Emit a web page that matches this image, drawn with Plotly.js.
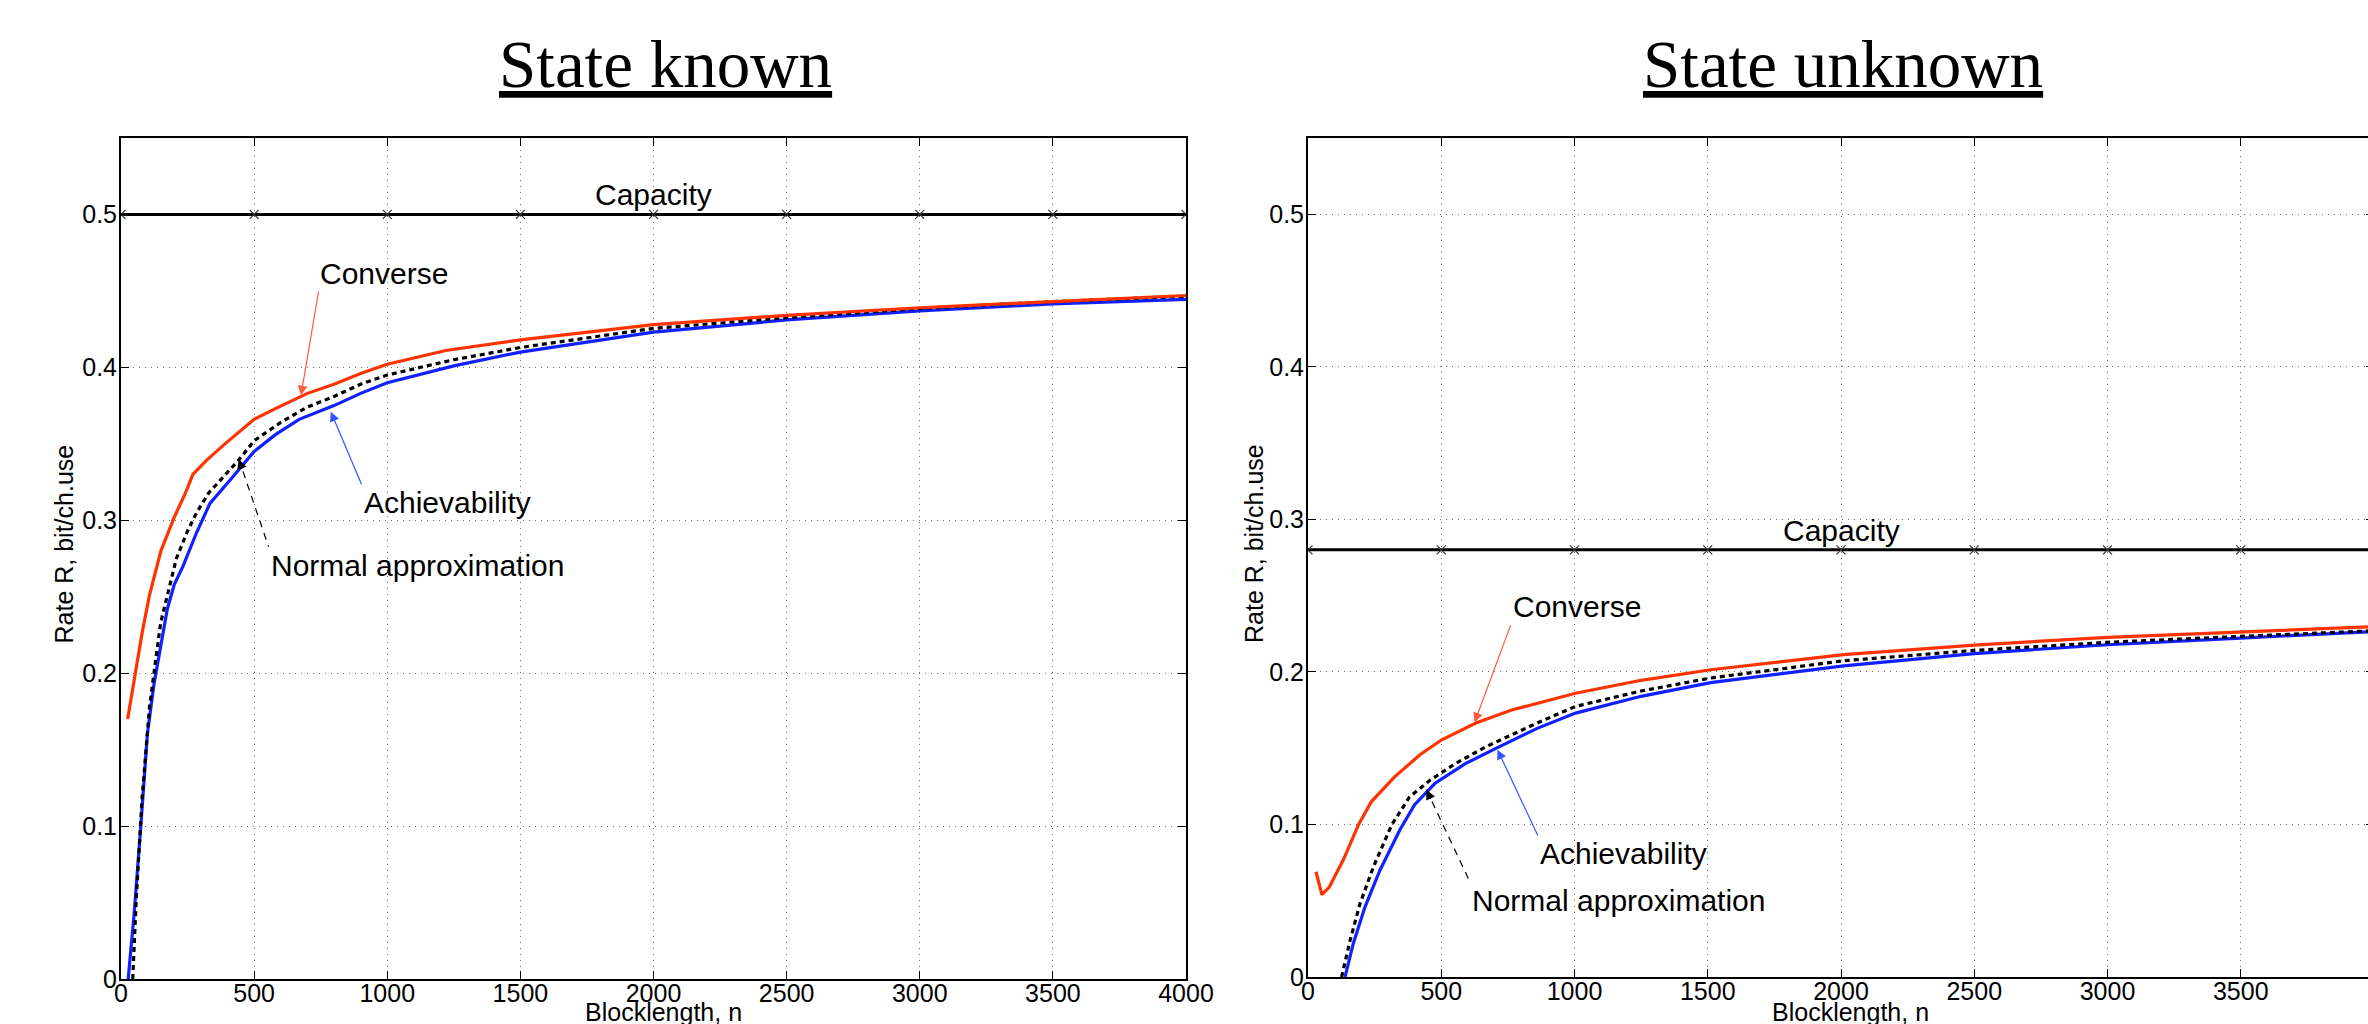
<!DOCTYPE html>
<html>
<head>
<meta charset="utf-8">
<script src="https://cdn.plot.ly/plotly-3.0.1.min.js"></script>
<style>
html,body{margin:0;padding:0;overflow:hidden;background:#fff;}
#chart{width:2380px;height:1024px;}
</style>
</head>
<body>
<div id="chart"></div>
<script>
// ---------------- data ----------------
const panelTitles = ['State known', 'State unknown'];
const xAxisTitle = 'Blocklength, n';
const yAxisTitle = 'Rate R, bit/ch.use';
const xTickVals = [0, 500, 1000, 1500, 2000, 2500, 3000, 3500, 4000];
const yTickVals = [0, 0.1, 0.2, 0.3, 0.4, 0.5];

// Capacity lines
const capacityN = [0, 500, 1000, 1500, 2000, 2500, 3000, 3500, 4000];
const capacityKnown = [0.5, 0.5, 0.5, 0.5, 0.5, 0.5, 0.5, 0.5, 0.5];
const capacityUnknown = [0.28, 0.28, 0.28, 0.28, 0.28, 0.28, 0.28, 0.28, 0.28];

// State known
const knownConverseN = [25, 50, 80, 107, 150, 200, 240, 270, 320, 384, 440, 500, 580, 640, 700, 800, 900, 1000, 1220, 1500, 2000, 2500, 3000, 3500, 4000];
const knownConverseR = [0.170, 0.196, 0.227, 0.251, 0.280, 0.302, 0.317, 0.330, 0.339, 0.349, 0.357, 0.366, 0.373, 0.378, 0.383, 0.389, 0.396, 0.402, 0.411, 0.418, 0.428, 0.434, 0.439, 0.443, 0.447];
const knownNormalN = [44, 57, 79, 107, 149, 208, 250, 284, 330, 384, 440, 500, 600, 700, 800, 900, 1000, 1250, 1500, 2000, 2500, 3000, 3500, 4000];
const knownNormalR = [0.000, 0.051, 0.118, 0.178, 0.233, 0.275, 0.293, 0.305, 0.318, 0.328, 0.339, 0.352, 0.364, 0.374, 0.381, 0.389, 0.395, 0.405, 0.413, 0.4255, 0.4325, 0.4385, 0.443, 0.4465];
const knownAchievN = [27, 49, 74, 99, 124, 150, 174, 200, 233, 284, 334, 418, 500, 580, 669, 800, 900, 1000, 1250, 1500, 2000, 2500, 3000, 3500, 4000];
const knownAchievR = [0.000, 0.042, 0.099, 0.160, 0.193, 0.219, 0.242, 0.258, 0.270, 0.292, 0.311, 0.328, 0.345, 0.356, 0.366, 0.375, 0.383, 0.390, 0.401, 0.410, 0.423, 0.431, 0.437, 0.4415, 0.4445];

// State unknown
const unknownConverseN = [30, 52, 80, 133, 190, 238, 324, 420, 502, 630, 764, 1004, 1250, 1511, 2010, 2500, 3000, 3500, 4000];
const unknownConverseR = [0.069, 0.054, 0.059, 0.077, 0.100, 0.115, 0.131, 0.1457, 0.1555, 0.1665, 0.175, 0.186, 0.1945, 0.2014, 0.2113, 0.2176, 0.2227, 0.2264, 0.2297];
const unknownNormalN = [126, 158, 195, 245, 314, 381, 458, 554, 668, 860, 1004, 1250, 1511, 2010, 2500, 3000, 3500, 4000];
const unknownNormalR = [0.000, 0.024, 0.048, 0.072, 0.0997, 0.118, 0.129, 0.140, 0.151, 0.1665, 0.1774, 0.1875, 0.196, 0.2073, 0.2141, 0.2194, 0.2233, 0.227];
const unknownAchievN = [139, 170, 214, 270, 345, 400, 477, 592, 707, 860, 1004, 1250, 1511, 2010, 2500, 3000, 3500, 4000];
const unknownAchievR = [0.000, 0.022, 0.046, 0.070, 0.0965, 0.113, 0.127, 0.140, 0.150, 0.163, 0.173, 0.184, 0.193, 0.204, 0.212, 0.2178, 0.2222, 0.2264];

// ---------------- styling ----------------
const W = 2380, H = 1024;
const fx = p => p / W;            // pixel -> paper x
const fy = p => 1 - p / H;        // pixel -> paper y
const SANS = 'Liberation Sans, Arial, Helvetica, sans-serif';
const SERIF = 'Liberation Serif, Times New Roman, serif';
const RED = '#ff3300', BLUE = '#1020ff', BLACK = '#000000';
const GRID = {showgrid: true, gridcolor: '#6f6f6f', griddash: '1px,5px', gridwidth: 1};

function xAxis(domain, anchor) {
  return Object.assign({
    domain: domain, anchor: anchor, range: [0, 4000],
    tickmode: 'array', tickvals: xTickVals,
    ticks: 'inside', ticklen: 8, tickwidth: 1, tickcolor: '#000',
    showline: true, linecolor: '#000', linewidth: 2, mirror: 'ticks',
    zeroline: false, fixedrange: true, ticklabelstandoff: -9,
    tickfont: {family: SANS, size: 25, color: '#000'}
  }, GRID);
}
function yAxis(domain, anchor) {
  return Object.assign({
    domain: domain, anchor: anchor, range: [0, 0.55],
    tickmode: 'array', tickvals: yTickVals,
    ticks: 'inside', ticklen: 8, tickwidth: 1, tickcolor: '#000',
    showline: true, linecolor: '#000', linewidth: 2, mirror: 'ticks',
    zeroline: false, fixedrange: true, ticklabelstandoff: -3,
    tickfont: {family: SANS, size: 25, color: '#000'}
  }, GRID);
}

function capTrace(y, xa, ya) {
  return {x: capacityN, y: y, xaxis: xa, yaxis: ya, mode: 'lines+markers', name: 'Capacity',
    line: {color: BLACK, width: 3},
    marker: {symbol: 'x-thin', size: 9, color: '#333', line: {color: '#333', width: 1.2}}};
}
function curve(x, y, xa, ya, color, dash, name) {
  return {x: x, y: y, xaxis: xa, yaxis: ya, mode: 'lines', name: name,
    line: {color: color, width: 3.2, dash: dash}};
}

const data = [
  capTrace(capacityKnown, 'x', 'y'),
  curve(knownAchievN, knownAchievR, 'x', 'y', BLUE, 'solid', 'Achievability'),
  curve(knownNormalN, knownNormalR, 'x', 'y', BLACK, '5px,4px', 'Normal approximation'),
  curve(knownConverseN, knownConverseR, 'x', 'y', RED, 'solid', 'Converse'),
  capTrace(capacityUnknown, 'x2', 'y2'),
  curve(unknownAchievN, unknownAchievR, 'x2', 'y2', BLUE, 'solid', 'Achievability'),
  curve(unknownNormalN, unknownNormalR, 'x2', 'y2', BLACK, '5px,4px', 'Normal approximation'),
  curve(unknownConverseN, unknownConverseR, 'x2', 'y2', RED, 'solid', 'Converse')
];

const labelFont = {family: SANS, size: 30, color: '#000'};
function pointer(text, xa, ya, x, y, ax, ay, xanchor, yanchor, color) {
  return {text: text, xref: xa, yref: ya, x: x, y: y, ax: ax, ay: ay,
    xanchor: xanchor, yanchor: yanchor, showarrow: true,
    arrowhead: 2, arrowsize: 1.6, arrowwidth: 1.2, arrowcolor: color,
    font: labelFont};
}
// dashed pointer: text + dashed shape + short arrow head
function dashedText(text, xa, ya, x, y, ax, ay) {
  return {text: text, xref: xa, yref: ya, x: x, y: y, ax: ax, ay: ay,
    xanchor: 'left', yanchor: 'top', showarrow: true, arrowcolor: 'rgba(0,0,0,0)',
    arrowwidth: 1, arrowhead: 0, font: labelFont};
}
function dashedHead(xa, ya, x, y, ax, ay) {
  const L = Math.hypot(ax, ay), k = 13 / L;
  return {text: ' ', xref: xa, yref: ya, x: x, y: y, ax: ax * k, ay: ay * k,
    showarrow: true, arrowhead: 2, arrowsize: 1.6, arrowwidth: 1.2, arrowcolor: '#000',
    font: {size: 2}};
}
function dashedLine(xa, ya, x, y, ax, ay) {
  return {type: 'line', xref: xa, yref: ya, xsizemode: 'pixel', ysizemode: 'pixel',
    xanchor: x, yanchor: y, x0: 0, y0: 0, x1: ax, y1: -ay,
    line: {color: '#000', width: 1.2, dash: '7px,6px'}};
}

const titleFont = {family: SERIF, size: 67, color: '#000', lineposition: 'under'};
const axisTitleFont = {family: SANS, size: 25, color: '#000'};

const annotations = [
  {text: panelTitles[0], xref: 'paper', yref: 'paper', x: fx(665), y: fy(64), showarrow: false,
   xanchor: 'center', yanchor: 'middle', font: titleFont},
  {text: panelTitles[1], xref: 'paper', yref: 'paper', x: fx(1843), y: fy(64), showarrow: false,
   xanchor: 'center', yanchor: 'middle', font: titleFont},
  {text: yAxisTitle, xref: 'paper', yref: 'paper', x: fx(63.5), y: fy(544), textangle: -90,
   showarrow: false, xanchor: 'center', yanchor: 'middle', font: axisTitleFont},
  {text: yAxisTitle, xref: 'paper', yref: 'paper', x: fx(1254), y: fy(544), textangle: -90,
   showarrow: false, xanchor: 'center', yanchor: 'middle', font: axisTitleFont},
  {text: xAxisTitle, xref: 'paper', yref: 'paper', x: fx(663), y: fy(1012), showarrow: false,
   xanchor: 'center', yanchor: 'middle', font: axisTitleFont},
  {text: xAxisTitle, xref: 'paper', yref: 'paper', x: fx(1850), y: fy(1012), showarrow: false,
   xanchor: 'center', yanchor: 'middle', font: axisTitleFont},
  {text: 'Capacity', xref: 'x', yref: 'y', x: 2000, y: capacityKnown[4], showarrow: false,
   xanchor: 'center', yanchor: 'bottom', yshift: 1, font: labelFont},
  {text: 'Capacity', xref: 'x2', yref: 'y2', x: 2000, y: capacityUnknown[4], showarrow: false,
   xanchor: 'center', yanchor: 'bottom', yshift: 1, font: labelFont},
  // State known pointers
  pointer('Converse', 'x', 'y', 676, 0.3817, 17.5, -103.6, 'left', 'bottom', '#ff5a3a'),
  pointer('Achievability', 'x', 'y', 788, 0.371, 30.7, 72.6, 'left', 'top', '#3355ff'),
  dashedText('Normal approximation', 'x', 'y', 442.5, 0.340, 29.7, 87.5),
  dashedHead('x', 'y', 442.5, 0.340, 29.7, 87.5),
  // State unknown pointers
  pointer('Converse', 'x2', 'y2', 625, 0.1669, 36.1, -97.3, 'left', 'bottom', '#ff5a3a'),
  pointer('Achievability', 'x2', 'y2', 711, 0.149, 40.2, 85.6, 'left', 'top', '#3355ff'),
  dashedText('Normal approximation', 'x2', 'y2', 444.5, 0.1227, 43.6, 92.3),
  dashedHead('x2', 'y2', 444.5, 0.1227, 43.6, 92.3)
];

const shapes = [
  dashedLine('x', 'y', 442.5, 0.340, 29.7, 87.5),
  dashedLine('x2', 'y2', 444.5, 0.1227, 43.6, 92.3)
];

const layout = {
  width: W, height: H,
  margin: {l: 0, r: 0, t: 0, b: 0, pad: 0},
  paper_bgcolor: '#fff', plot_bgcolor: '#fff',
  showlegend: false,
  font: {family: SANS, color: '#000'},
  xaxis: xAxis([fx(121), fx(1186)], 'y'),
  yaxis: yAxis([1 - 979 / H, 1 - 138 / H], 'x'),
  xaxis2: xAxis([fx(1308), fx(2374)], 'y2'),
  yaxis2: yAxis([1 - 977 / H, 1 - 138 / H], 'x2'),
  annotations: annotations,
  shapes: shapes
};

Plotly.newPlot('chart', data, layout, {displayModeBar: false, staticPlot: true});
</script>
</body>
</html>
